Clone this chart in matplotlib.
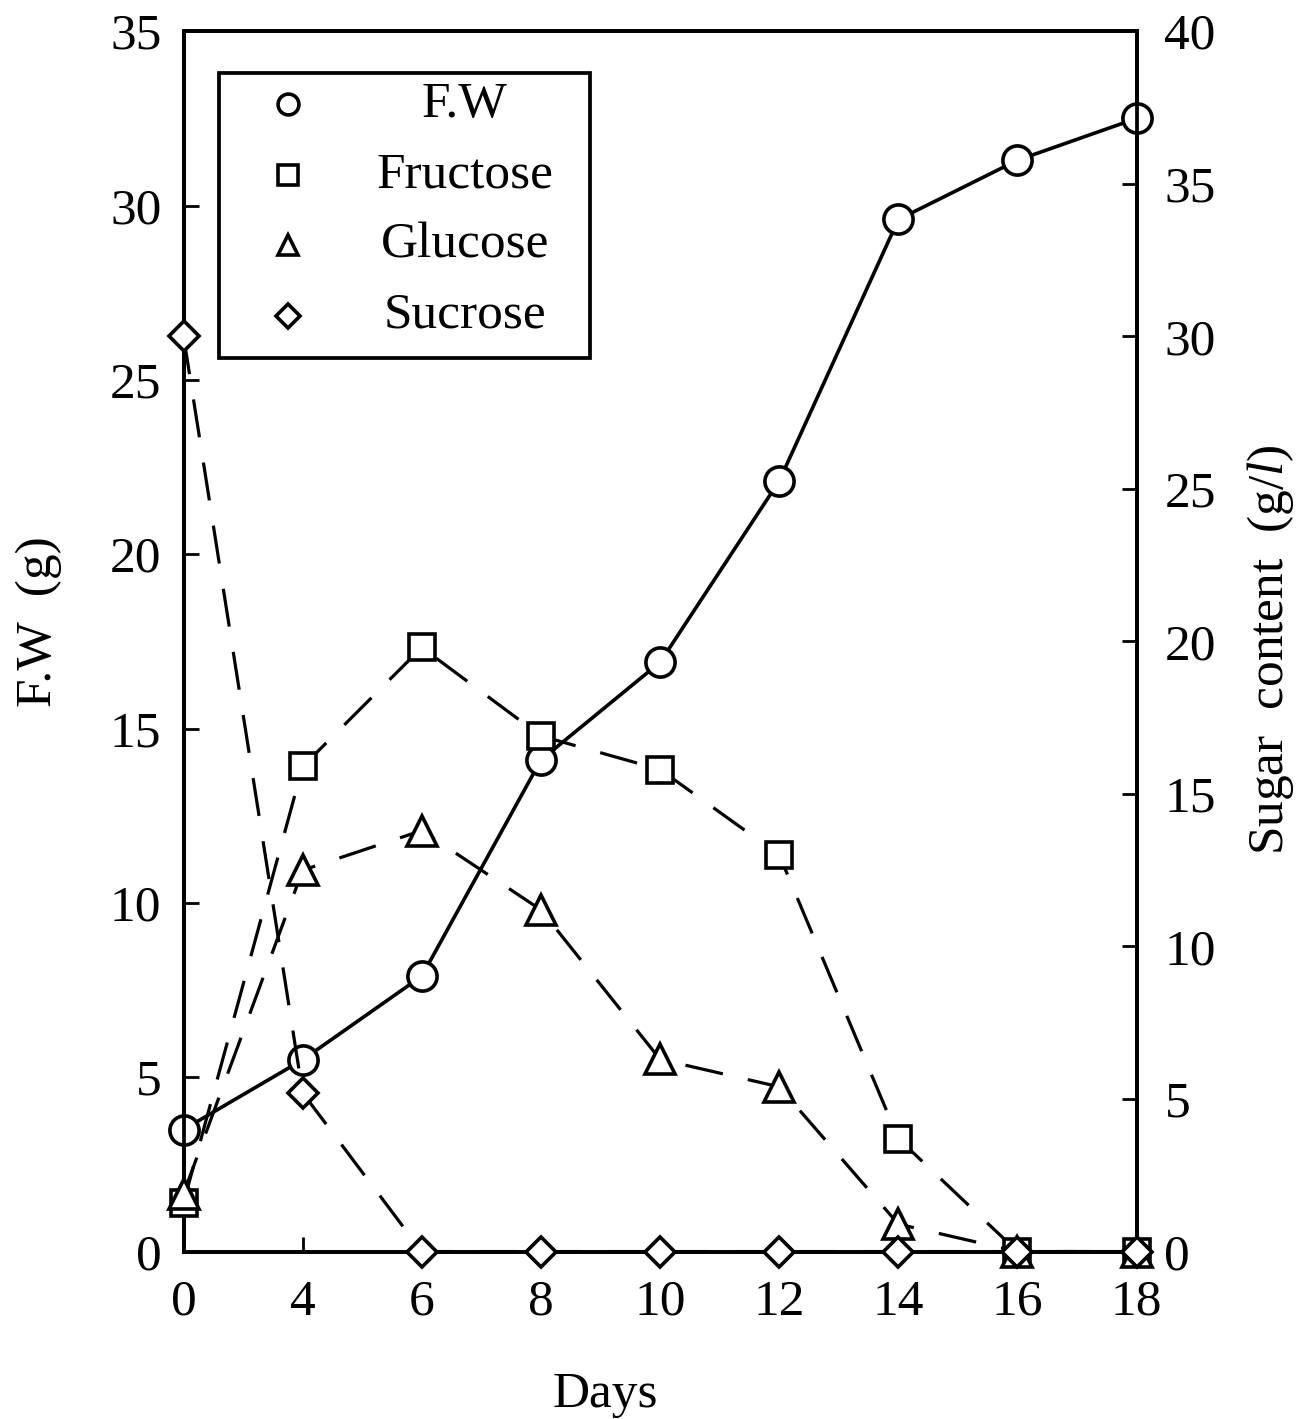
import numpy as np
import matplotlib
matplotlib.use("Agg")
import matplotlib.pyplot as plt
from matplotlib.patches import Rectangle

plt.rcParams['font.family'] = ['Liberation Serif', 'DejaVu Serif']
plt.rcParams['mathtext.fontset'] = 'custom'
plt.rcParams['mathtext.rm'] = 'Liberation Serif'
plt.rcParams['mathtext.it'] = 'Liberation Serif:italic'

# data
days = ['0', '4', '6', '8', '10', '12', '14', '16', '18']
fresh_weight = [3.5, 5.5, 7.9, 14.1, 16.9, 22.1, 29.6, 31.3, 32.5]   # left axis, g
fructose = [1.6, 15.9, 19.8, 16.9, 15.8, 13.0, 3.7, 0.0, 0.0]        # right axis, g/l
glucose = [1.9, 12.5, 13.8, 11.2, 6.3, 5.4, 0.9, 0.0, 0.0]
sucrose = [30.0, 5.2, 0.0, 0.0, 0.0, 0.0, 0.0, 0.0, 0.0]
series_names = ['F.W', 'Fructose', 'Glucose', 'Sucrose']
series_markers = ['o', 's', '^', 'D']

fs = 37
x = np.arange(len(days))

fig = plt.figure(figsize=(13.11, 14.19), dpi=100)
ax = fig.add_axes([0.140, 0.118, 0.727, 0.860])
ax2 = ax.twinx()

# fresh weight on the left scale, solid line
ax.plot(x, fresh_weight, color='black', lw=2.6, marker='o', ms=21, mfc='white',
        mec='black', mew=2.6, clip_on=False, zorder=3)

# sugars on the right scale, dashed lines
dash = (0, (12, 8))
for vals, mk, ms in [(fructose, 's', 19), (glucose, '^', 21), (sucrose, 'D', 15)]:
    ax2.plot(x, vals, color='black', lw=2.3, ls=dash, marker=mk, ms=ms, mfc='white',
             mec='black', mew=2.6, clip_on=False, zorder=3)

ax.set_xlim(0, len(days) - 1)
ax.set_ylim(0, 35)
ax2.set_ylim(0, 40)
ax.set_xticks(x)
ax.set_xticklabels(days)
ax.set_yticks(np.arange(0, 36, 5))
ax2.set_yticks(np.arange(0, 41, 5))

ax.tick_params(axis='both', direction='in', length=11, width=2, labelsize=fs, pad=16)
ax.tick_params(axis='x', pad=20)
ax2.tick_params(axis='y', direction='in', length=11, width=2, labelsize=fs, pad=20)
for a in (ax, ax2):
    for s in a.spines.values():
        s.set_linewidth(2.7)

ax.set_xlabel('Days', fontsize=fs)
ax.xaxis.set_label_coords(0.443, -0.098)
ax.set_ylabel('F.W  (g)', fontsize=fs)
ax.yaxis.set_label_coords(-0.128, 0.516)
ax2.set_ylabel(r'Sugar  content  (g/$\mathit{l}$)', fontsize=fs)
ax2.yaxis.set_label_coords(1.114, 0.493)

# legend box drawn by hand so the labels sit centred like the original
ax2.add_patch(Rectangle((0.037, 0.732), 0.389, 0.234, transform=ax2.transAxes,
                        fill=False, lw=2.7, ec='black', zorder=5))
row_y = [0.940, 0.882, 0.825, 0.767]
leg_ms = [15, 14, 15, 12]
for name, mk, yy, ms in zip(series_names, series_markers, row_y, leg_ms):
    ax2.plot([0.11], [yy], transform=ax2.transAxes, marker=mk, ms=ms, mfc='white',
             mec='black', mew=2.6, ls='none', zorder=6)
    ax2.text(0.295, yy, name, transform=ax2.transAxes, fontsize=fs,
             ha='center', va='center', zorder=6)

fig.savefig('out.png', dpi=100)
